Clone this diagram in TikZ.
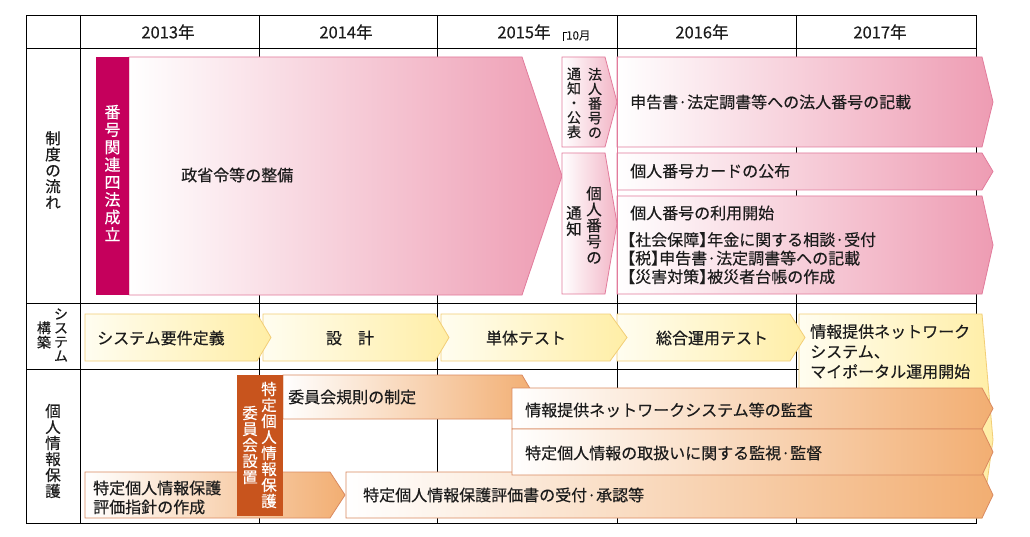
\documentclass[tikz,border=0pt]{standalone}
\usepackage{fontspec}
\setmainfont{Noto Sans CJK JP}[FakeBold=0.35]
\definecolor{pinkR}{HTML}{EE9CB3}
\definecolor{pinkB}{HTML}{E27B9C}
\definecolor{magbar}{HTML}{C5005C}
\definecolor{yelL}{HTML}{FFFDF0}
\definecolor{yelR}{HTML}{FFEEA6}
\definecolor{yelB}{HTML}{F2CE76}
\definecolor{orR}{HTML}{F2AE72}
\definecolor{orB}{HTML}{DA8A60}
\definecolor{orDark}{HTML}{C8541D}
\definecolor{txt}{HTML}{1C1C1C}
\newcommand\pent[6]{\shadedraw[#1] (#2,#3) -- (#4,#3) -- (#5,{(#3+#6)/2}) -- (#4,#6) -- (#2,#6) -- cycle;}
\tikzset{
  gridline/.style={draw=black, line width=0.9pt},
  pinkbox/.style={left color=white, right color=pinkR, draw=pinkB, line width=0.8pt},
  pinksmall/.style={left color=white, right color=pinkR!75!white, draw=pinkB, line width=0.8pt},
  yelbox/.style={left color=yelL, right color=yelR, draw=yelB, line width=0.8pt},
  orbox/.style={left color=white, right color=orR, draw=orB, line width=0.8pt},
  lbl/.style={font=\fontsize{16}{19}\selectfont, text=txt, inner sep=0pt},
  yr/.style={font=\fontsize{16.5}{18}\selectfont, text=txt, inner sep=0pt},
  vt/.style={font=\fontsize{15.5}{16}\selectfont, text=txt, inner sep=0pt, align=center},
}
\begin{document}
\begin{tikzpicture}[x=1pt,y=-1pt]
\useasboundingbox (0,0) rectangle (1030,537);
\fill[white] (0,0) rectangle (1030,537);
% grid
\draw[gridline] (26,15) rectangle (976,523);
\foreach \x in {80,259,437,617,796} \draw[gridline] (\x,15) -- (\x,523);
\foreach \y in {48,303,369} \draw[gridline] (26,\y) -- (976,\y);
% header
\node[yr] (y13) at (168,32) {2013年};
\node[yr] (y14) at (346,32) {2014年};
\node[yr] (y15) at (524,32) {2015年};
\node[yr] (y16) at (702,32) {2016年};
\node[yr] (y17) at (880,32) {2017年};
\node[font=\fontsize{11.5}{13}\selectfont, text=txt, inner sep=0pt, anchor=west] (oct) at (566,35.5) {10月};
\draw[black, line width=0.7pt] (563,41) -- (563,32) -- (567,32);
% row labels
\node[vt] (r1) at (53,170) {制\\度\\の\\流\\れ};
\node[vt, font=\fontsize{14}{14}\selectfont] (r2a) at (61,335) {シ\\ス\\テ\\ム};
\node[vt, font=\fontsize{14}{14.5}\selectfont] (r2b) at (44,335) {構\\築};
\node[vt] (r3) at (53,451) {個\\人\\情\\報\\保\\護};
% seido row
\shadedraw[pinkbox] (129,57) -- (522,57) -- (562,176) -- (522,295) -- (129,295) -- cycle;
\fill[magbar] (96,57) rectangle (129,295);
\node[vt, text=white, font=\fontsize{16}{17.5}\selectfont] (law) at (112.5,173) {番\\号\\関\\連\\四\\法\\成\\立};
\node[lbl, anchor=west] (seirei) at (181,175) {政省令等の整備};
\shadedraw[pinksmall] (562,57) -- (605,57) -- (617,102) -- (605,147) -- (562,147) -- cycle;
\shadedraw[pinksmall] (562,153) -- (605,153) -- (617,223.5) -- (605,294) -- (562,294) -- cycle;
\node[vt, font=\fontsize{14}{14.5}\selectfont] (hojinA) at (595,103) {法\\人\\番\\号\\の};
\node[vt, font=\fontsize{14}{14.5}\selectfont] (hojinB) at (574,103) {通\\知\\・\\公\\表};
\node[vt] (kojinA) at (594,225) {個\\人\\番\\号\\の};
\node[vt] (kojinB) at (574,221) {通\\知};
\pent{pinkbox}{617}{57}{982}{993}{147}
\pent{pinkbox}{617}{153}{982}{993}{190}
\pent{pinkbox}{617}{196}{982}{993}{294}
\draw[pinkB, line width=0.8pt] (617,57) -- (617,294);
\node[lbl, anchor=west] (t1) at (630,102) {申告書·法定調書等への法人番号の記載};
\node[lbl, anchor=west] (t2) at (630,171) {個人番号カードの公布};
\node[lbl, anchor=west] (t3) at (630,213) {個人番号の利用開始};
\node[lbl, anchor=north west, align=left, font=\fontsize{16}{18.5}\selectfont\addfontfeature{RawFeature=+halt}] (t4) at (627,232) {【社会保障】年金に関する相談·受付\\【税】申告書·法定調書等への記載\\【災害対策】被災者台帳の作成};
% system row
\shadedraw[yelbox] (799,314) -- (982,314) -- (993,440) -- (982,518) -- (799,518) -- cycle;
\pent{yelbox}{617}{314}{790}{805}{361}
\pent{yelbox}{441}{314}{610}{627}{361}
\pent{yelbox}{263}{314}{435}{449}{361}
\pent{yelbox}{85}{314}{257}{271}{361}
\node[lbl, anchor=west] (s1) at (97,338) {システム要件定義};
\node[lbl] (s2) at (350,338) {設\hspace{1em}計};
\node[lbl] (s3) at (526,338) {単体テスト};
\node[lbl] (s4) at (712,338) {総合運用テスト};
\node[lbl, anchor=north west, align=left, font=\fontsize{16}{20}\selectfont] (s5) at (810,324) {情報提供ネットワーク\\システム、\\マイポータル運用開始};
% personal info row
\pent{orbox}{283}{375}{522}{535}{419}
\pent{orbox}{85}{472}{330}{345}{518}
\pent{orbox}{346}{472}{982}{993}{518}
\pent{orbox}{512}{388}{982}{993}{429}
\pent{orbox}{512}{429}{982}{993}{475}
\fill[orDark] (237,375) rectangle (283,516);
\node[vt, text=white] (iinA) at (269,445) {特\\定\\個\\人\\情\\報\\保\\護};
\node[vt, text=white] (iinB) at (250,445) {委\\員\\会\\設\\置};
\node[lbl, anchor=west] (p1) at (288,397) {委員会規則の制定};
\node[lbl, anchor=west] (p2) at (525,410) {情報提供ネットワークシステム等の監査};
\node[lbl, anchor=west] (p3) at (525,453) {特定個人情報の取扱いに関する監視·監督};
\node[lbl, anchor=west] (p4) at (363,495) {特定個人情報保護評価書の受付·承認等};
\node[lbl, anchor=west, align=left] (p5) at (93,497.5) {特定個人情報保護\\評価指針の作成};
\end{tikzpicture}
\end{document}
